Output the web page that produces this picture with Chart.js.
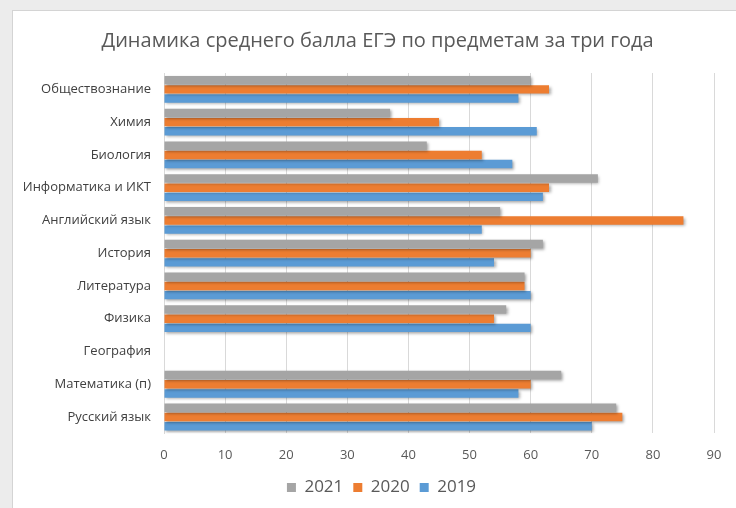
<!DOCTYPE html>
<html>
<head>
<meta charset="utf-8">
<script src="https://cdn.jsdelivr.net/npm/chart.js@4/dist/chart.umd.min.js"></script>
<style>
  body { margin: 0; background: #ececec; }
  #box {
    position: absolute; left: 12px; top: 10px; width: 724px; height: 498px;
    background: #fff; border-left: 1px solid #d4d4d4; border-top: 1px solid #d4d4d4;
  }
</style>
</head>
<body>
<div id="box"><canvas id="grafica" width="723" height="497"></canvas></div>
<script>
// Datos del grafico

const categorias = ['Обществознание', 'Химия', 'Биология', 'Информатика и ИКТ', 'Английский язык',
  'История', 'Литература', 'Физика', 'География', 'Математика (п)', 'Русский язык'];

const datos2021 = [60, 37, 43, 71, 55, 62, 59, 56, null, 65, 74];
const datos2020 = [63, 45, 52, 63, 85, 60, 59, 54, null, 60, 75];
const datos2019 = [58, 61, 57, 62, 52, 54, 60, 60, null, 58, 70];

const ticksX = [0, 10, 20, 30, 40, 50, 60, 70, 80, 90];

const gris = '#a5a5a5';
const naranja = '#ed7d31';
const azul = '#5b9bd5';

// Sombra de las barras

const sombra = {
  id: 'sombra',
  afterLayout(chart) {
    // centrar titulo y leyenda como en el original
    chart.titleBlock.left += 14;
    chart.titleBlock.right += 14;
    chart.legend.left += 18;
    chart.legend.right += 18;
  },
  beforeDatasetsDraw(chart) {
    const ctx = chart.ctx;
    ctx.save();
    ctx.shadowColor = 'rgba(0,0,0,0.35)';
    ctx.shadowBlur = 3;
    ctx.shadowOffsetX = 1.5;
    ctx.shadowOffsetY = 1.5;
  },
  afterDatasetsDraw(chart) {
    chart.ctx.restore();
  }
};

const data = {
  labels: categorias,
  datasets: [
    { label: '2021', data: datos2021, backgroundColor: gris },
    { label: '2020', data: datos2020, backgroundColor: naranja },
    { label: '2019', data: datos2019, backgroundColor: azul }
  ]
};

const config = {
  type: 'bar',
  data,
  options: {
    indexAxis: 'y',
    responsive: false,
    animation: false,
    datasets: { bar: { categoryPercentage: 0.84, barPercentage: 0.92 } },
    layout: { padding: { top: 8, right: 22, left: 0, bottom: 2 } },
    plugins: {
      title: {
        display: true,
        text: 'Динамика среднего балла ЕГЭ по предметам за три года',
        color: '#595959',
        font: { family: 'Open Sans', size: 20, weight: 'normal' },
        padding: { top: 10, bottom: 20 }
      },
      legend: {
        position: 'bottom',
        labels: {
          color: '#595959',
          font: { family: 'Open Sans', size: 17 },
          boxWidth: 9, boxHeight: 9, padding: 10
        }
      },
      tooltip: { enabled: false }
    },
    scales: {
      x: {
        min: 0, max: 90,
        afterBuildTicks: s => { s.ticks = ticksX.map(v => ({ value: v })); },
        afterFit: s => { s.height -= 8; },
        grid: { color: '#d9d9d9', drawTicks: false },
        border: { display: false },
        ticks: { color: '#595959', font: { family: 'Open Sans', size: 13 }, padding: 14 }
      },
      y: {
        afterFit: s => { s.width = 151; },
        grid: { display: false },
        border: { color: '#d9d9d9' },
        ticks: { color: '#404040', font: { family: 'Open Sans', size: 13 }, padding: 5 }
      }
    }
  },
  plugins: [sombra]
};

var grafica = new Chart(document.getElementById('grafica'), config);
</script>
</body>
</html>
